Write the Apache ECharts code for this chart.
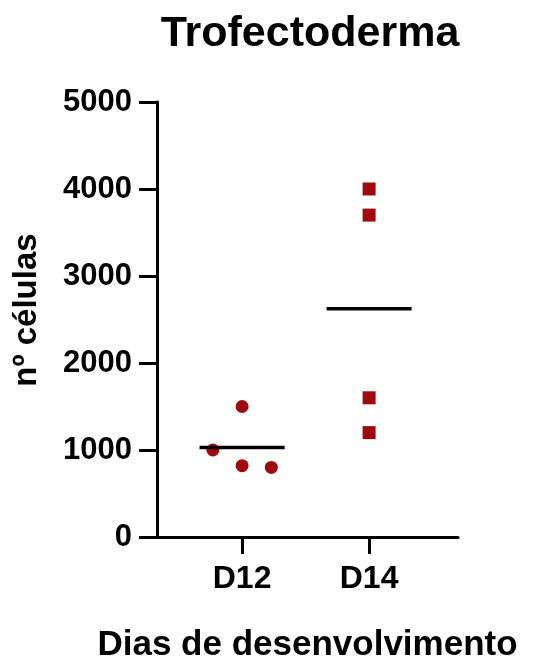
<!DOCTYPE html>
<html>
<head>
<meta charset="utf-8">
<script src="https://cdn.jsdelivr.net/npm/echarts@6/dist/echarts.min.js"></script>
<style>
  html, body { margin: 0; padding: 0; background: #fff; }
  #chart { width: 536px; height: 660px; }
</style>
</head>
<body>
<div id="chart"></div>
<script>
// Cell counts per embryo, by day of development
const categories = ['D12', 'D14'];
const d12Cells = [1500, 1000, 820, 800];
const d14Cells = [4000, 3700, 1600, 1200];
// horizontal spread of the dots around each category (in category units)
const d12Jitter = [0, -0.23, 0, 0.23];
const d14Jitter = [0, 0, 0, 0];
const yMin = 0, yMax = 5000, yStep = 1000;

const FONT = '"Liberation Sans", Arial, Helvetica, sans-serif';
const RED = '#a00a0f';

const mean = arr => arr.reduce((a, b) => a + b, 0) / arr.length;
const points = (vals, jit, pos) => vals.map((v, i) => [pos + jit[i], v]);
const meanLine = (vals, pos) => [[pos - 0.335, mean(vals)], [pos + 0.335, mean(vals)]];

const chart = echarts.init(document.getElementById('chart'), null, { renderer: 'canvas' });
chart.setOption({
  backgroundColor: '#fff',
  animation: false,
  title: {
    text: 'Trofectoderma',
    left: 305,
    top: 8,
    textAlign: 'center',
    textStyle: { fontFamily: FONT, fontWeight: 'bold', fontSize: 43, color: '#000' }
  },
  grid: { left: 157, top: 102, width: 301, height: 435, outerBoundsMode: 'none', containLabel: false },
  xAxis: {
    type: 'value',
    min: 0.33,
    max: 2.7,
    name: 'Dias de desenvolvimento',
    nameLocation: 'middle',
    nameGap: 91,
    nameTextStyle: { fontFamily: FONT, fontWeight: 'bold', fontSize: 35, color: '#000' },
    splitLine: { show: false },
    axisLine: { lineStyle: { color: '#000', width: 3 } },
    axisTick: { show: true, customValues: [1, 2], length: 17, lineStyle: { color: '#000', width: 3 } },
    axisLabel: {
      customValues: [1, 2],
      margin: 26,
      formatter: v => categories[Math.round(v) - 1] || '',
      fontFamily: FONT, fontWeight: 'bold', fontSize: 32, color: '#000'
    }
  },
  yAxis: {
    type: 'value',
    min: yMin,
    max: yMax,
    interval: yStep,
    name: 'nº células',
    nameLocation: 'middle',
    nameGap: 114,
    nameTextStyle: { fontFamily: FONT, fontWeight: 'bold', fontSize: 33, color: '#000', padding: [0, 0, 0, 19] },
    splitLine: { show: false },
    axisLine: { show: true, lineStyle: { color: '#000', width: 3 } },
    axisTick: { show: true, length: 18, lineStyle: { color: '#000', width: 3 } },
    axisLabel: {
      margin: 25,
      formatter: v => String(v),
      fontFamily: FONT, fontWeight: 'bold', fontSize: 31, color: '#000'
    }
  },
  series: [
    {
      name: 'D12',
      type: 'scatter',
      symbol: 'circle',
      symbolSize: 13,
      itemStyle: { color: RED, opacity: 1 },
      data: points(d12Cells, d12Jitter, 1),
      z: 3
    },
    {
      name: 'D14',
      type: 'scatter',
      symbol: 'rect',
      symbolSize: 13,
      itemStyle: { color: RED, opacity: 1 },
      data: points(d14Cells, d14Jitter, 2),
      z: 3
    },
    {
      type: 'line',
      data: meanLine(d12Cells, 1),
      symbol: 'none',
      lineStyle: { color: '#000', width: 3.5 },
      z: 4
    },
    {
      type: 'line',
      data: meanLine(d14Cells, 2),
      symbol: 'none',
      lineStyle: { color: '#000', width: 3.5 },
      z: 4
    }
  ]
});
</script>
</body>
</html>
